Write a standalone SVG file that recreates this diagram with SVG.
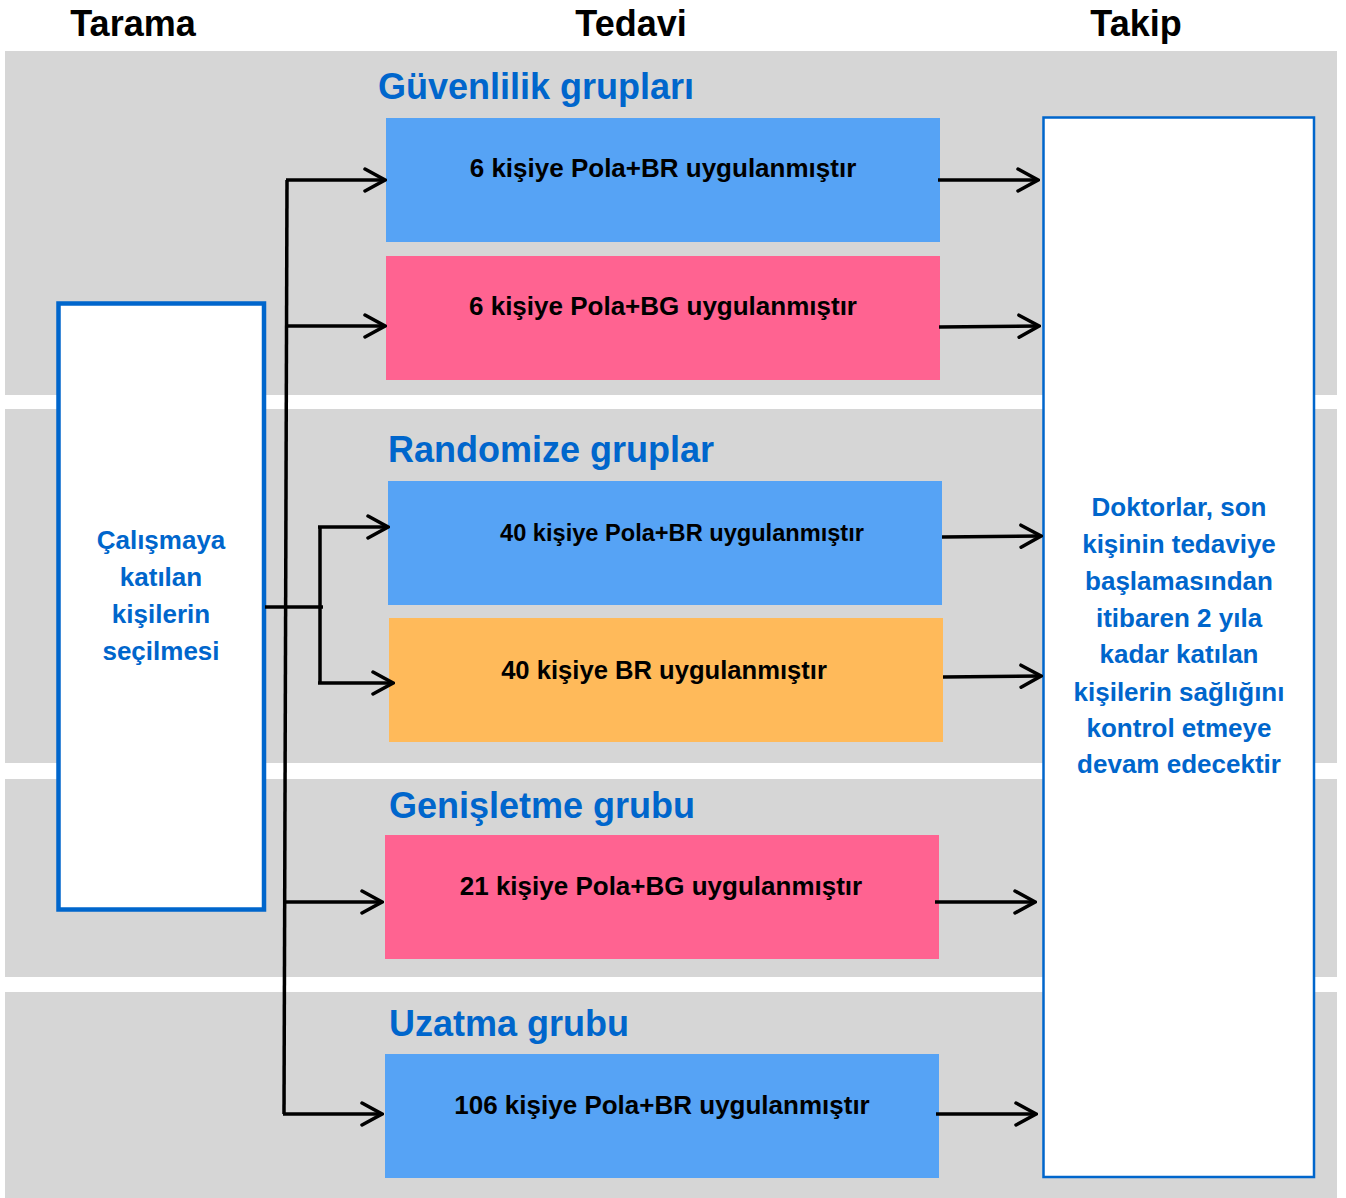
<svg xmlns="http://www.w3.org/2000/svg" width="1346" height="1198" viewBox="0 0 1346 1198">
<defs>
<style>
.band{fill:#D6D6D6}
.hdr{font-family:"Liberation Sans",Arial,sans-serif;font-weight:bold;font-size:36px;fill:#000;text-anchor:middle}
.sec{font-family:"Liberation Sans",Arial,sans-serif;font-weight:bold;font-size:36px;fill:#0066CC}
.bt{font-family:"Liberation Sans",Arial,sans-serif;font-weight:bold;font-size:26px;fill:#000;text-anchor:middle}
.wt{font-family:"Liberation Sans",Arial,sans-serif;font-weight:bold;font-size:26px;fill:#0066CC;text-anchor:middle}
.blue{fill:#56A3F5}
.pink{fill:#FF6391}
.orange{fill:#FFBA5A}
.line{stroke:#000;stroke-width:3.5;fill:none}
.arr{stroke:#000;stroke-width:3.5;fill:none;marker-end:url(#chev)}
</style>
<marker id="chev" markerUnits="userSpaceOnUse" viewBox="-22 -13 24 26" refX="0" refY="0" markerWidth="24" markerHeight="26" orient="auto">
<path d="M-20,-11 L0,0 L-20,11" fill="none" stroke="#000" stroke-width="3.5" stroke-linecap="round" stroke-linejoin="miter"/>
</marker>
</defs>
<rect width="1346" height="1198" fill="#fff"/>
<g id="bands">
<rect class="band" x="5" y="51" width="1332" height="344"/>
<rect class="band" x="5" y="409" width="1332" height="354"/>
<rect class="band" x="5" y="779" width="1332" height="198"/>
<rect class="band" x="5" y="992" width="1332" height="206"/>
</g>
<g id="headers">
<text class="hdr" x="133" y="36">Tarama</text>
<text class="hdr" x="631" y="36">Tedavi</text>
<text class="hdr" x="1136" y="36">Takip</text>
</g>
<g id="titles">
<text class="sec" x="378" y="99">Güvenlilik grupları</text>
<text class="sec" x="388" y="462">Randomize gruplar</text>
<text class="sec" x="389" y="818">Genişletme grubu</text>
<text class="sec" x="389" y="1036">Uzatma grubu</text>
</g>
<g id="screening">
<rect x="58.5" y="303.5" width="205.5" height="606" fill="#fff" stroke="#0066CC" stroke-width="4.5"/>
<text class="wt" x="161" y="549">Çalışmaya</text>
<text class="wt" x="161" y="586">katılan</text>
<text class="wt" x="161" y="623">kişilerin</text>
<text class="wt" x="161" y="660">seçilmesi</text>
</g>
<g id="followup">
<rect x="1043.5" y="117.5" width="270.5" height="1059.5" fill="#fff" stroke="#0066CC" stroke-width="2.5"/>
<text class="wt" x="1179" y="516">Doktorlar, son</text>
<text class="wt" x="1179" y="553">kişinin tedaviye</text>
<text class="wt" x="1179" y="590">başlamasından</text>
<text class="wt" x="1179" y="627">itibaren 2 yıla</text>
<text class="wt" x="1179" y="663">kadar katılan</text>
<text class="wt" x="1179" y="701">kişilerin sağlığını</text>
<text class="wt" x="1179" y="737">kontrol etmeye</text>
<text class="wt" x="1179" y="773">devam edecektir</text>
</g>
<g id="box1">
<rect class="blue" x="386" y="118" width="554" height="124"/>
<text class="bt" x="663" y="177">6 kişiye Pola+BR uygulanmıştır</text>
</g>
<g id="box2">
<rect class="pink" x="386" y="256" width="554" height="124"/>
<text class="bt" x="663" y="315">6 kişiye Pola+BG uygulanmıştır</text>
</g>
<g id="box3">
<rect class="blue" x="388" y="481" width="554" height="124"/>
<text class="bt" x="682" y="541" style="font-size:23.6px">40 kişiye Pola+BR uygulanmıştır</text>
</g>
<g id="box4">
<rect class="orange" x="389" y="618" width="554" height="124"/>
<text class="bt" x="664" y="679" style="font-size:25.6px">40 kişiye BR uygulanmıştır</text>
</g>
<g id="box5">
<rect class="pink" x="385" y="835" width="554" height="124"/>
<text class="bt" x="661" y="895">21 kişiye Pola+BG uygulanmıştır</text>
</g>
<g id="box6">
<rect class="blue" x="385" y="1054" width="554" height="124"/>
<text class="bt" x="662" y="1114">106 kişiye Pola+BR uygulanmıştır</text>
</g>
<g id="connectors">
<path class="line" d="M287,180 L284,1114"/>
<path class="arr" d="M286,180 L385,180"/>
<path class="arr" d="M286,326 L385,326"/>
<path class="line" d="M265,607 L323,607"/>
<path class="line" d="M320,527 L320,683"/>
<path class="arr" d="M318,527 L388,527"/>
<path class="arr" d="M318,683 L393,683"/>
<path class="arr" d="M284,902 L382,902"/>
<path class="arr" d="M283,1114 L382,1114"/>
<path class="arr" d="M938,180 L1038,180"/>
<path class="arr" d="M939,327 L1039,326"/>
<path class="arr" d="M942,537 L1041,536"/>
<path class="arr" d="M943,677 L1041,676"/>
<path class="arr" d="M935,902 L1035,902"/>
<path class="arr" d="M936,1114 L1036,1114"/>
</g>
</svg>
